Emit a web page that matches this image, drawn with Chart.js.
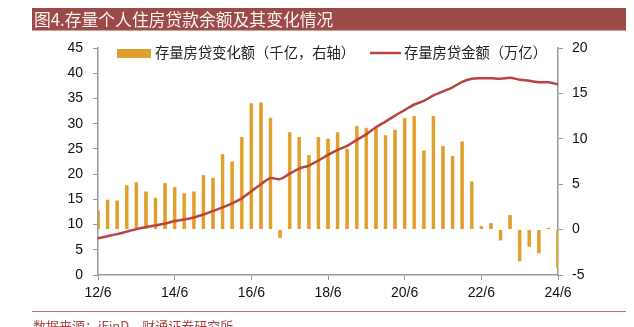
<!DOCTYPE html>
<html>
<head>
<meta charset="utf-8">
<script src="https://cdn.jsdelivr.net/npm/chart.js@4.4.1/dist/chart.umd.min.js"></script>
<style>
  html, body { margin: 0; padding: 0; background: #fff; }
  #wrap { width: 634px; height: 327px; position: relative; }
</style>
</head>
<body>
<div id="wrap"><canvas id="c" width="634" height="327"></canvas></div>
<script>
// quarterly points, 2012-06 .. 2024-06
const quarters = [
  '12/6','12/9','12/12','13/3','13/6','13/9','13/12','14/3','14/6','14/9','14/12','15/3',
  '15/6','15/9','15/12','16/3','16/6','16/9','16/12','17/3','17/6','17/9','17/12','18/3',
  '18/6','18/9','18/12','19/3','19/6','19/9','19/12','20/3','20/6','20/9','20/12','21/3',
  '21/6','21/9','21/12','22/3','22/6','22/9','22/12','23/3','23/6','23/9','23/12','24/3','24/6'
];
const tickLabels = ['12/6','14/6','16/6','18/6','20/6','22/6','24/6'];

// 存量房贷变化额（千亿，右轴）
const changeVals = [
  2.1, 3.3, 3.2, 4.9, 5.2, 4.2, 3.5, 5.1, 4.7, 4.0, 4.2, 6.0,
  5.7, 8.3, 7.5, 10.2, 13.9, 14.0, 12.3, -0.9, 10.7, 10.2, 8.2, 10.2,
  10.0, 10.7, 8.9, 11.4, 11.2, 11.2, 10.4, 11.0, 12.3, 12.5, 8.7, 12.5,
  9.2, 8.1, 9.7, 5.3, 0.4, 0.7, -1.2, 1.6, -3.5, -1.9, -2.6, 0.2, -4.2
];
// 存量房贷金额（万亿）
const balanceVals = [
  7.3, 7.7, 8.1, 8.6, 9.1, 9.5, 9.8, 10.2, 10.7, 11.0, 11.4, 12.0,
  12.7, 13.4, 14.2, 15.2, 16.6, 18.0, 19.2, 19.0, 20.1, 21.1, 21.7, 22.7,
  23.8, 24.8, 25.6, 26.8, 27.9, 29.3, 30.4, 31.6, 32.7, 33.8, 34.5, 35.6,
  36.4, 37.2, 38.3, 38.9, 39.0, 39.0, 38.9, 39.1, 38.7, 38.5, 38.2, 38.2, 37.8
];

const BAR = '#DF9F2B';
const LINE = '#B8433F';
const AXIS = '#9a9a9a';
const CJK = '"Noto Sans CJK SC", "Noto Sans", sans-serif';
const NUM = '"Liberation Sans", Arial, sans-serif';

// title bar, legend and source line drawn around the chart
const decor = {
  id: 'decor',
  beforeDraw(chart) {
    const ctx = chart.ctx;
    ctx.save();
    ctx.fillStyle = '#9C4A47';
    ctx.fillRect(32, 8, 594, 22.5);
    ctx.fillStyle = '#FBF3F3';
    ctx.font = '16.8px ' + CJK;
    ctx.textBaseline = 'middle';
    ctx.fillText('图4.存量个人住房贷款余额及其变化情况', 34, 19.5);
    ctx.restore();
  },
  afterDraw(chart) {
    const ctx = chart.ctx;
    ctx.save();
    // legend
    ctx.fillStyle = BAR;
    ctx.fillRect(117, 49, 34, 9);
    ctx.strokeStyle = LINE;
    ctx.lineWidth = 2.5;
    ctx.beginPath();
    ctx.moveTo(370, 53);
    ctx.lineTo(401, 53);
    ctx.stroke();
    ctx.fillStyle = '#222';
    ctx.font = '14.3px ' + CJK;
    ctx.textBaseline = 'middle';
    ctx.fillText('存量房贷变化额（千亿，右轴）', 155, 53);
    ctx.fillText('存量房贷金额（万亿）', 404, 53);
    // source
    ctx.strokeStyle = '#B47070';
    ctx.lineWidth = 1;
    ctx.beginPath();
    ctx.moveTo(32, 311.5);
    ctx.lineTo(626, 311.5);
    ctx.stroke();
    ctx.fillStyle = '#A04848';
    ctx.font = '13px ' + CJK;
    ctx.textBaseline = 'top';
    ctx.fillText('数据来源：iFinD，财通证券研究所', 33, 320);
    ctx.restore();
  }
};

new Chart(document.getElementById('c'), {
  data: {
    labels: quarters,
    datasets: [
      {
        type: 'line',
        data: balanceVals,
        yAxisID: 'y',
        borderColor: LINE,
        borderWidth: 2.5,
        pointRadius: 0,
        tension: 0.3,
        order: 0
      },
      {
        type: 'bar',
        data: changeVals,
        yAxisID: 'y1',
        backgroundColor: BAR,
        borderColor: '#EDC27A',
        borderWidth: 0.6,
        barThickness: 3.5,
        order: 1
      }
    ]
  },
  options: {
    responsive: false,
    animation: false,
    layout: { padding: { top: 48, left: 0, right: 0, bottom: 0 } },
    plugins: { legend: { display: false }, tooltip: { enabled: false } },
    scales: {
      x: {
        offset: false,
        grid: {
          offset: false,
          drawOnChartArea: false,
          tickLength: 5,
          tickColor: c => (tickLabels.includes(quarters[c.index]) ? AXIS : 'rgba(0,0,0,0)')
        },
        border: { color: AXIS, width: 1.5 },
        ticks: {
          autoSkip: false,
          maxRotation: 0,
          padding: 5,
          color: '#111',
          font: { family: NUM, size: 14 },
          callback: (v, i) => (tickLabels.includes(quarters[i]) ? quarters[i] : '')
        },
        afterFit: s => { s.height = 52; }
      },
      y: {
        position: 'left',
        min: 0,
        max: 45,
        ticks: { stepSize: 5, padding: 10, color: '#111', font: { family: NUM, size: 14 } },
        grid: { drawOnChartArea: false, tickLength: 5, tickColor: AXIS },
        border: { color: AXIS, width: 1.5 },
        afterFit: s => { s.width = 98; }
      },
      y1: {
        position: 'right',
        min: -5,
        max: 20,
        ticks: { stepSize: 5, padding: 9, color: '#111', font: { family: NUM, size: 14 } },
        grid: { drawOnChartArea: false, tickLength: 5, tickColor: AXIS },
        border: { color: AXIS, width: 1.5 },
        afterFit: s => { s.width = 76; }
      }
    }
  },
  plugins: [decor]
});
</script>
</body>
</html>
